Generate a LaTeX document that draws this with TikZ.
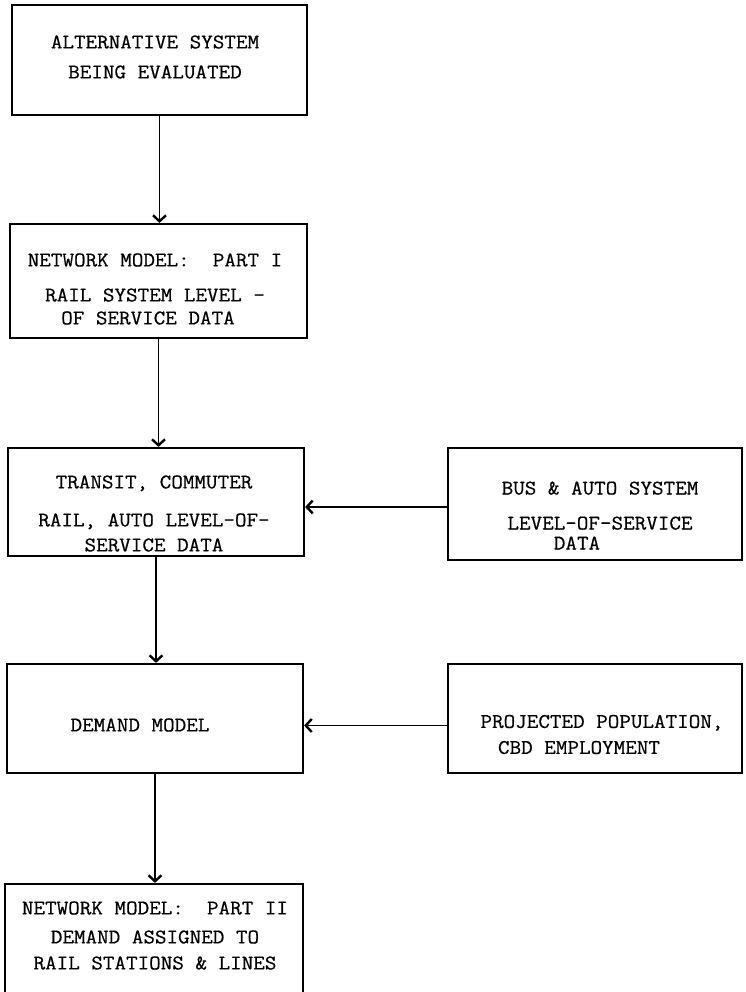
\documentclass[tikz,border=0pt]{standalone}
\usepackage{fontspec}
\setmonofont{Latin Modern Mono}[FakeStretch=1.08,FakeBold=0.6]
\usepackage{tikz}
\usetikzlibrary{arrows.meta,positioning,calc}

\begin{document}
\begin{tikzpicture}[x=1pt, y=-1pt,
  blk/.style={draw, line width=2.2pt, inner sep=0pt},
  txt/.style={font=\ttfamily\fontsize{20.8}{26}\selectfont, align=center, inner sep=0pt},
  flow/.style={line width=1.5pt, -{Straight Barb[length=6pt,width=13pt,line width=2.4pt]}}]
  \useasboundingbox (0,0) rectangle (746,992);

  % Boxes, left column
  \node[blk, minimum width=295pt, minimum height=110pt] (alt)  at (159.5,60)  {};
  \node[blk, minimum width=297pt, minimum height=114pt] (net1) at (158.5,281) {};
  \node[blk, minimum width=296pt, minimum height=108pt] (los)  at (156,502)   {};
  \node[blk, minimum width=296pt, minimum height=109pt] (dem)  at (155,718.5) {};
  \node[blk, minimum width=298pt, minimum height=126pt] (net2) at (154,947)   {};
  % Boxes, right column
  \node[blk, minimum width=294pt, minimum height=112pt] (bus) at (595,504)   {};
  \node[blk, minimum width=294pt, minimum height=109pt] (pop) at (595,718.5) {};

  % Texts
  \node[txt] (altTxt)  at (155,57)    {ALTERNATIVE SYSTEM\\[4pt]BEING EVALUATED};
  \node[txt] (net1Txt) at (155,289)   {NETWORK MODEL:~~PART I\\[9pt]RAIL SYSTEM LEVEL -\\[-3pt]OF SERVICE DATA\hspace*{14pt}};
  \node[txt] (losTxt)  at (154,513.5) {TRANSIT, COMMUTER\\[12pt]RAIL, AUTO LEVEL-OF-\\[-1pt]SERVICE DATA};
  \node[txt] (busTxt)  at (600,515.5) {BUS \& AUTO SYSTEM\\[9pt]LEVEL-OF-SERVICE\\[-6pt]DATA\hspace*{46pt}};
  \node[txt] (demTxt)  at (140,725)   {DEMAND MODEL};
  \node[txt] (popTxt)  at (602,734.5) {PROJECTED POPULATION,\\CBD EMPLOYMENT\hspace*{46pt}};
  \node[txt] (net2Txt) at (155,935.5) {NETWORK MODEL:~~PART II\\[3pt]DEMAND ASSIGNED TO\\RAIL STATIONS \& LINES};

  % Flow down the left column
  \draw[flow] (alt.south)  -- (alt.south |- net1.north);
  \draw[flow] (net1.south) -- (net1.south |- los.north);
  \draw[flow, line width=2pt] (los.south)  -- (los.south |- dem.north);
  \draw[flow, line width=2pt] (dem.south)  -- (dem.south |- net2.north);
  % Inputs from the right
  \draw[flow] ($(bus.west)+(0,3)$) -- ($(bus.west -| los.east)+(0,3)$);
  \draw[flow] ($(pop.west)+(0,7)$) -- ($(pop.west -| dem.east)+(0,7)$);
\end{tikzpicture}
\end{document}
